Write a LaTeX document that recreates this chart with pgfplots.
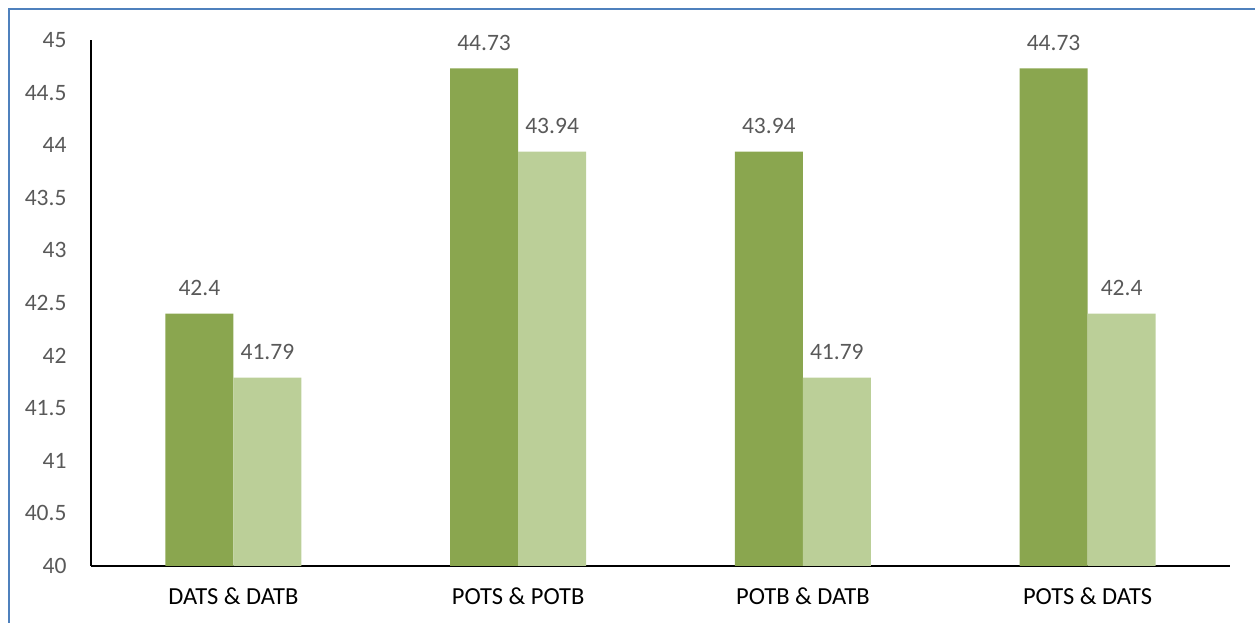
\documentclass[border=0pt]{standalone}
\usepackage{pgfplots}
\pgfplotsset{compat=1.18}
\usepackage{fontspec}
\setmainfont{Carlito}
\definecolor{dk}{HTML}{8AA64F}
\definecolor{lt}{HTML}{BBCF98}
\definecolor{tk}{HTML}{595959}
\definecolor{fr}{HTML}{4F81BD}
\begin{document}
\begin{tikzpicture}[x=1pt,y=1pt]
\begin{axis}[
  at={(91pt,57pt)}, anchor=south west,
  scale only axis, width=1139pt, height=526pt,
  xmin=-0.5, xmax=3.5, ymin=40, ymax=45,
  ytick={40,40.5,...,45},
  yticklabels={40,40.5,41,41.5,42,42.5,43,43.5,44,44.5,45},
  xtick=data,
  xticklabels={DATS \& DATB, POTS \& POTB, POTB \& DATB, POTS \& DATS},
  axis x line*=bottom, axis y line*=left,
  axis line style={black, line width=2pt, -},
  major tick length=0pt,
  ybar=0pt, bar width=68pt,
  tick label style={font=\fontsize{23.5}{28}\selectfont},
  yticklabel style={text=tk, xshift=-21pt},
  xticklabel style={text=black, yshift=-18pt, font=\fontsize{24.5}{29}\selectfont},
  nodes near coords,
  nodes near coords style={font=\fontsize{23.5}{28}\selectfont, text=tk, yshift=14pt},
  point meta=explicit symbolic,
]
\addplot[fill=dk, draw=none] coordinates {(0,42.4)[42.4] (1,44.73)[44.73] (2,43.94)[43.94] (3,44.73)[44.73]};
\addplot[fill=lt, draw=none] coordinates {(0,41.79)[41.79] (1,43.94)[43.94] (2,41.79)[41.79] (3,42.4)[42.4]};
\end{axis}
\draw[fr, line width=2pt] (9pt,0pt) -- (9pt,614pt) -- (1255pt,614pt);
\pgfresetboundingbox
\path[use as bounding box] (0,0) rectangle (1255pt,623pt);
\end{tikzpicture}
\end{document}
